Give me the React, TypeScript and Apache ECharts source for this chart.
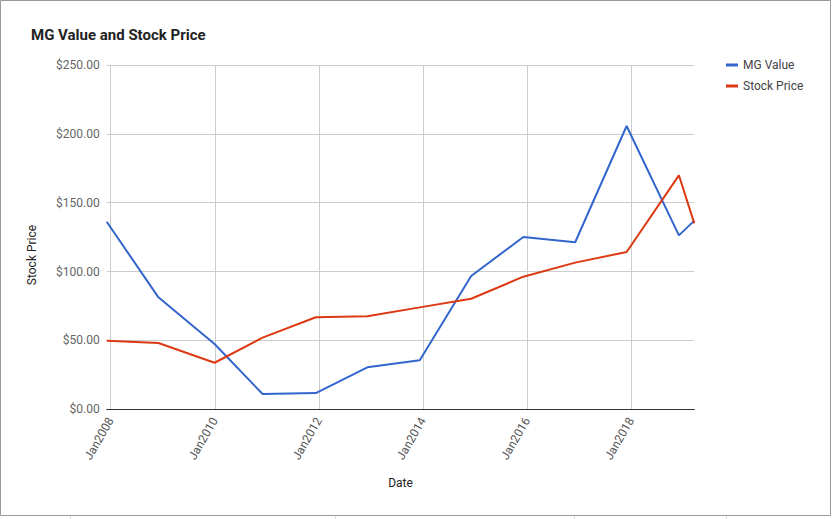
import React, { useEffect, useRef } from "react";
import * as echarts from "echarts";

const dates = [
  "2007-12-04", "2008-12-01", "2009-12-30", "2010-12-02", "2011-12-11",
  "2012-12-06", "2013-12-09", "2014-12-05", "2015-12-06", "2016-12-04",
  "2017-11-30", "2018-12-02", "2019-03-20",
];
const mgValue = [136.2, 81.3, 47.4, 11.1, 11.8, 30.5, 35.6, 96.8, 125.1, 121.3, 205.7, 126.3, 137];
const stockPrice = [49.8, 48.1, 33.8, 52, 66.8, 67.5, 74, 80.3, 96.3, 106.5, 114.2, 169.9, 135];
const xTickYears = [2008, 2010, 2012, 2014, 2016, 2018];
const yTicks = [0, 50, 100, 150, 200, 250];

const toYear = (s: string) => {
  const ms = Date.parse(s + "T00:00:00Z");
  return 1970 + ms / (365.2425 * 86400000);
};

export default function App() {
  const ref = useRef<HTMLDivElement>(null);
  useEffect(() => {
    if (!ref.current) return;
    const chart = echarts.init(ref.current, null, { renderer: "svg" });
    const W = 833;
    const L = 106.7;
    const R = 694.3;
    const top = 65;
    const bottom = 519 - 409.3;
    const xs = dates.map(toYear);
    const x0 = xs[0];
    const x1 = xs[xs.length - 1];
    const pix = (y: number) => L + ((y - x0) / (x1 - x0)) * (R - L);
    const gMin = xTickYears[0];
    const gMax = xTickYears[xTickYears.length - 1];
    const font = "Roboto, Arial, sans-serif";
    const blue = "#3366cc";
    const red = "#dc3912";

    chart.setOption({
      animation: false,
      backgroundColor: "#ffffff",
      textStyle: { fontFamily: font },
      title: {
        text: "MG Value and Stock Price",
        left: 26,
        top: 22,
        textStyle: { fontFamily: font, fontSize: 15, fontWeight: "bold", color: "#222" },
      },
      legend: {
        orient: "vertical",
        left: 721,
        top: 54,
        itemGap: 9,
        itemWidth: 12,
        itemHeight: 3,
        icon: "rect",
        textStyle: { fontFamily: font, fontSize: 12, color: "#444" },
        data: ["MG Value", "Stock Price"],
      },
      grid: [
        { left: pix(gMin), right: W - pix(gMax), top, bottom, containLabel: false },
        { left: L, right: W - R, top, bottom, containLabel: false },
      ],
      xAxis: [
        {
          type: "value",
          gridIndex: 0,
          min: gMin,
          max: gMax,
          interval: 2,
          axisLine: { show: false },
          axisTick: { show: false },
          splitLine: { show: true, lineStyle: { color: "#cccccc", width: 1 } },
          axisLabel: {
            rotate: 60,
            margin: 9,
            fontFamily: font,
            fontSize: 12,
            color: "#555",
            formatter: (v: number) => "Jan" + v,
          },
        },
        {
          type: "value",
          gridIndex: 1,
          min: x0,
          max: x1,
          axisLine: { show: true, lineStyle: { color: "#333", width: 1 } },
          axisTick: { show: false },
          axisLabel: { show: false },
          splitLine: { show: false },
          name: "Date",
          nameLocation: "middle",
          nameGap: 68,
          nameTextStyle: { fontFamily: font, fontSize: 12, color: "#222" },
        },
      ],
      yAxis: [
        { type: "value", gridIndex: 0, min: 0, max: 250, show: false },
        {
          type: "value",
          gridIndex: 1,
          min: yTicks[0],
          max: yTicks[yTicks.length - 1],
          interval: 50,
          axisLine: { show: false },
          axisTick: { show: false },
          splitLine: { show: true, lineStyle: { color: "#cccccc", width: 1 } },
          axisLabel: {
            margin: 7,
            fontFamily: font,
            fontSize: 12,
            color: "#666",
            formatter: (v: number) => "$" + v.toFixed(2),
          },
        },
      ],
      series: [
        {
          name: "MG Value",
          type: "line",
          xAxisIndex: 1,
          yAxisIndex: 1,
          data: xs.map((x, i) => [x, mgValue[i]]),
          showSymbol: false,
          symbol: "none",
          lineStyle: { color: blue, width: 2 },
          itemStyle: { color: blue },
          z: 3,
        },
        {
          name: "Stock Price",
          type: "line",
          xAxisIndex: 1,
          yAxisIndex: 1,
          data: xs.map((x, i) => [x, stockPrice[i]]),
          showSymbol: false,
          symbol: "none",
          lineStyle: { color: red, width: 2 },
          itemStyle: { color: red },
          z: 4,
        },
      ],
      graphic: [
        {
          type: "rect",
          shape: { x: 0.5, y: 0.5, width: 830, height: 515 },
          style: { fill: "none", stroke: "#9a9a9a", lineWidth: 1 },
          silent: true,
          z: 100,
        },
        {
          type: "text",
          x: 32,
          y: 255,
          rotation: Math.PI / 2,
          style: {
            text: "Stock Price",
            fontFamily: font,
            fontSize: 12,
            fill: "#222",
            textAlign: "center",
            textVerticalAlign: "middle",
          },
        },
        ...[70, 335, 574, 726].map((x) => ({
          type: "line",
          shape: { x1: x + 0.5, y1: 516, x2: x + 0.5, y2: 519 },
          style: { stroke: "#dddddd", lineWidth: 1 },
          silent: true,
        })),
      ],
    });
    return () => chart.dispose();
  }, []);
  return (
    <div
      ref={ref}
      style={{ position: "absolute", left: 0, top: 0, width: 833, height: 519 }}
    />
  );
}
